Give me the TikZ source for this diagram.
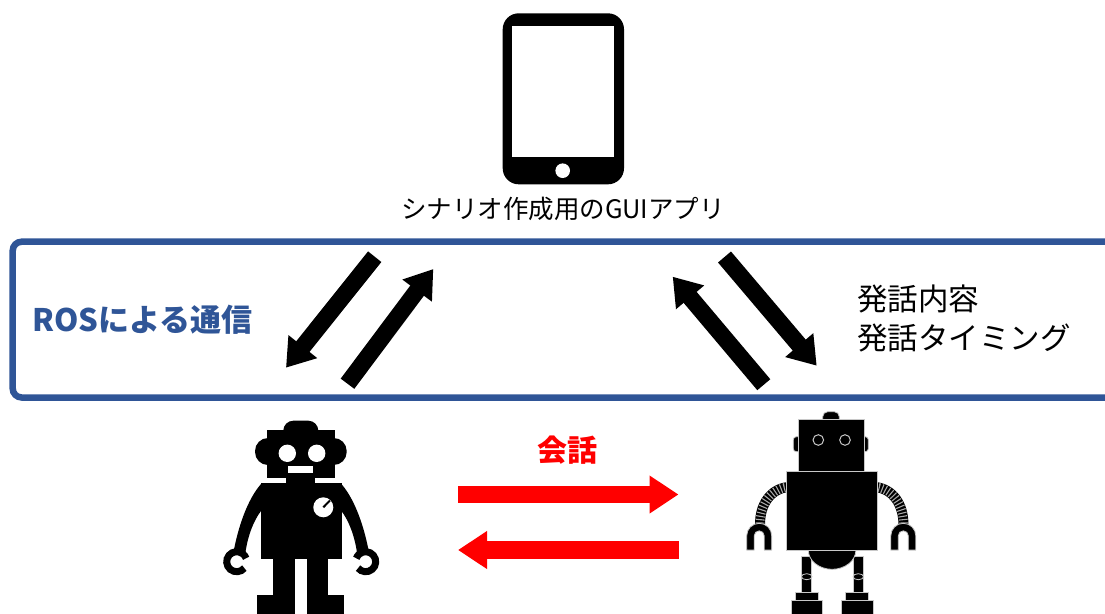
\documentclass[tikz,border=0pt]{standalone}
\usepackage{fontspec}
\setmainfont{Noto Sans CJK JP}
\usetikzlibrary{arrows.meta}
\definecolor{rosblue}{HTML}{2F5597}
\definecolor{talkred}{HTML}{FF0000}
\definecolor{edgegray}{HTML}{C8C8C8}
\definecolor{stripegray}{HTML}{A8A8A8}
\tikzset{
  flow/.style={line width=17pt, -{Triangle[width=35pt,length=27pt]}},
  talk/.style={draw=talkred, line width=17.5pt, -{Triangle[width=36pt,length=29pt]}},
  txt/.style={inner sep=0pt, font=\fontsize{30.5}{38}\selectfont},
  rbt/.style={fill=black, draw=edgegray, line width=0.8pt},
  armline/.style={line width=10pt, line cap=butt},
  armstripe/.style={draw=stripegray, line width=9pt, dash pattern=on 1.1pt off 2.2pt}
}
\begin{document}
\begin{tikzpicture}[x=1pt,y=-1pt]
\useasboundingbox (0,0) rectangle (1105,613);

% tablet
\fill[rounded corners=16pt] (502.7,13.3) rectangle (624,184.3);
\fill[white] (511.7,26) rectangle (614.3,156.7);
\fill[white] (562.7,170.7) circle (7.3);
\node[inner sep=0pt, font=\fontsize{25.5}{30}\selectfont] (gui) at (563,209) {シナリオ作成用のGUIアプリ};

% ROS frame
\draw[rosblue, line width=6.5pt, rounded corners=9pt] (12.7,241.7) rectangle (1125,397.5);
\node[txt, anchor=west, text=rosblue, font=\bfseries\fontsize{31}{38}\selectfont] (ros) at (32,320) {ROSによる通信};
\node[txt, anchor=west] (content) at (857,299) {発話内容};
\node[txt, anchor=west] (timing) at (857,337.5) {発話タイミング};

% communication arrows
\coordinate (aAs) at (374.7,256.7); \coordinate (aAe) at (286,367.7);
\coordinate (aBs) at (347.5,383.7); \coordinate (aBe) at (433.3,269);
\coordinate (aCs) at (763.8,384.7); \coordinate (aCe) at (672.7,276.7);
\coordinate (aDs) at (724.5,257);   \coordinate (aDe) at (816.7,365.7);
\draw[flow] (aAs) -- (aAe);
\draw[flow] (aBs) -- (aBe);
\draw[flow] (aCs) -- (aCe);
\draw[flow] (aDs) -- (aDe);

% dialogue
\node[txt, text=talkred, font=\bfseries\fontsize{30}{38}\selectfont] (talk) at (567,450) {会話};
\coordinate (rAs) at (458,494.5); \coordinate (rAe) at (678.5,494.5);
\coordinate (rBs) at (678.5,550); \coordinate (rBe) at (458,550);
\draw[talk] (rAs) -- (rAe);
\draw[talk] (rBs) -- (rBe);

% left robot
\fill[rounded corners=10pt] (283.3,420.7) rectangle (318.3,440);
\fill (266.7,430) rectangle (335,478.3);
\fill[rounded corners=13pt] (255,438) rectangle (346.7,465);
\fill[white] (287.3,453.3) circle (8.7);
\fill[white] (316.7,453.3) circle (8.7);
\fill[white] (288.3,466) rectangle (313.3,472.7);
\fill (286,477) rectangle (315,485);
\fill (260.7,483.3) rectangle (341.7,559.3);
\fill[white] (323.3,507.3) circle (10);
\draw[line width=2pt] (323.3,507.3) -- (330,500.5);
\fill (261,484) .. controls (247,500) and (238,528) .. (233.5,552) -- (245.5,552)
      .. controls (248,535) and (254,520) .. (261,511) -- cycle;
\fill (341.4,484) .. controls (355.4,500) and (364.4,528) .. (368.9,552) -- (356.9,552)
      .. controls (354.4,535) and (348.4,520) .. (341.4,511) -- cycle;
\draw[line width=7pt] (236.7,561.7) ++(40:10) arc[start angle=40, end angle=340, radius=10];
\draw[line width=7pt] (365.7,561.7) ++(140:10) arc[start angle=140, end angle=-160, radius=10];
\fill (272.7,558) rectangle (295,597);
\fill (306.7,558) rectangle (328.3,597);
\fill (257.3,595) rectangle (295,614);
\fill (306.7,595) rectangle (344,614);

% right robot: arms
\draw[armline] (788,487) .. controls (770,489) and (760,505) .. (760,524);
\draw[armstripe] (788,487) .. controls (770,489) and (760,505) .. (760,524);
\draw[armline] (875.4,487) .. controls (893.4,489) and (903.4,505) .. (903.4,524);
\draw[armstripe] (875.4,487) .. controls (893.4,489) and (903.4,505) .. (903.4,524);
% hands
\filldraw[rbt] (746.7,550) -- (746.7,535.8) arc[start angle=180, end angle=360, radius=12.5]
  -- (771.7,550) -- (764.2,550) -- (764.2,535.8) arc[start angle=0, end angle=-180, radius=5]
  -- (754.2,550) -- cycle;
\filldraw[rbt] (890.8,550) -- (890.8,535.8) arc[start angle=180, end angle=360, radius=12.5]
  -- (915.8,550) -- (908.3,550) -- (908.3,535.8) arc[start angle=0, end angle=-180, radius=5]
  -- (898.3,550) -- cycle;
% legs and feet
\filldraw[rbt] (801.7,556) rectangle (811.7,594);
\filldraw[rbt] (853.3,556) rectangle (863.3,594);
\draw[edgegray, line width=0.8pt] (806.7,576.7) ellipse[x radius=5.3, y radius=3];
\draw[edgegray, line width=0.8pt] (858.3,576.7) ellipse[x radius=5.3, y radius=3];
\filldraw[rbt] (808.3,550) arc[start angle=180, end angle=0, x radius=23.8, y radius=19.3] -- cycle;
\filldraw[rbt] (795,592.7) rectangle (818.3,600);
\filldraw[rbt] (791,600) rectangle (822.7,616);
\filldraw[rbt] (845,592.7) rectangle (868.3,600);
\filldraw[rbt] (841,600) rectangle (873.3,616);
% body and head
\filldraw[rbt] (786,471.7) rectangle (877.3,550);
\filldraw[rbt, rounded corners=3pt] (793.3,436.7) rectangle (868.3,451.7);
\filldraw[rbt, rounded corners=5pt] (822.7,411.7) rectangle (839.3,424);
\filldraw[rbt] (798.3,419.3) rectangle (864,471.7);
\draw[edgegray, line width=1pt] (818.3,440) circle (5.3);
\draw[edgegray, line width=1pt] (845,440) circle (5.3);
\end{tikzpicture}
\end{document}
